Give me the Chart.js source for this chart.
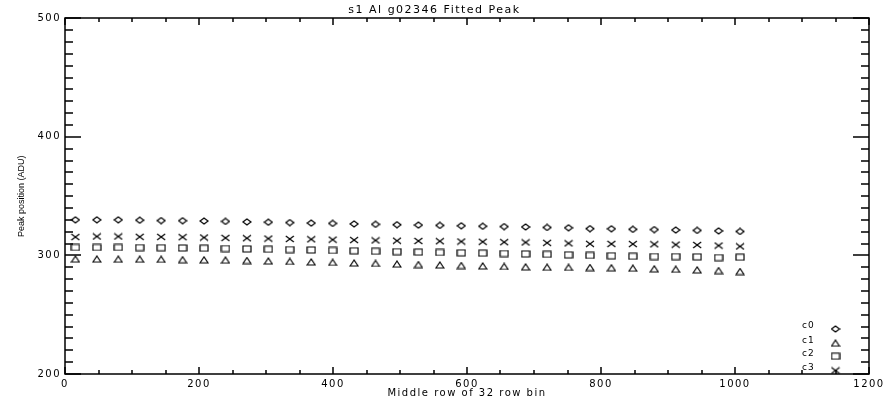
<!DOCTYPE html>
<html><head><meta charset="utf-8">
<script src="https://cdn.jsdelivr.net/npm/chart.js@4"></script>
<style>html,body{margin:0;padding:0;background:#fff;}canvas{display:block;}</style>
</head><body>
<canvas id="c" width="890" height="407"></canvas>
<script>
// ---- data ----
const chartTitle = 's1 Al g02346 Fitted Peak';
const xAxisTitle = 'Middle row of 32 row bin';
const yAxisTitle = 'Peak position (ADU)';
const seriesNames = ['c0', 'c1', 'c2', 'c3'];
const rowBins = [15.5, 47.5, 79.5, 111.5, 143.5, 175.5, 207.5, 239.5, 271.5, 303.5, 335.5, 367.5, 399.5, 431.5, 463.5, 495.5,
                 527.5, 559.5, 591.5, 623.5, 655.5, 687.5, 719.5, 751.5, 783.5, 815.5, 847.5, 879.5, 911.5, 943.5, 975.5, 1007.5];
const c0 = [330.0, 330.0, 330.0, 329.7, 329.4, 329.3, 329.0, 328.7, 328.3, 328.0, 327.7, 327.3, 327.0, 326.6, 326.2, 325.9,
            325.6, 325.3, 325.0, 324.6, 324.3, 324.0, 323.6, 323.3, 322.6, 322.5, 322.0, 321.8, 321.4, 321.1, 320.7, 320.2];
const c1 = [296.9, 296.9, 296.8, 296.8, 296.7, 296.4, 296.3, 296.0, 295.7, 295.3, 294.9, 294.5, 294.1, 293.6, 293.2, 292.7,
            292.3, 291.9, 291.5, 291.1, 290.7, 290.3, 290.0, 289.9, 289.8, 289.6, 289.2, 288.7, 288.3, 287.8, 287.2, 286.4];
const c2 = [306.7, 306.7, 306.7, 306.6, 306.5, 306.3, 306.1, 305.8, 305.5, 305.2, 304.9, 304.6, 304.2, 303.9, 303.5, 303.2,
            302.8, 302.5, 302.2, 301.9, 301.6, 301.3, 300.9, 300.5, 300.0, 299.7, 299.3, 299.1, 299.0, 298.8, 298.2, 298.5];
const c3 = [315.5, 316.0, 316.0, 315.7, 315.6, 315.4, 315.1, 314.8, 314.5, 314.2, 313.9, 313.6, 313.3, 313.0, 312.7, 312.4,
            312.2, 312.0, 311.7, 311.5, 311.2, 311.0, 310.6, 310.2, 309.8, 309.7, 309.6, 309.4, 309.1, 308.8, 308.3, 307.6];
const legendX = [1150, 1150, 1150, 1150];
const legendY = [238, 226, 215, 203];
const legendLabelX = 1100;
const xRange = [0, 1200];
const yRange = [200, 500];

// ---- marker images (IDL-like symbols) ----
function marker(kind) {
  const w = 10, h = 8;
  const cv = document.createElement('canvas');
  cv.width = w; cv.height = h;
  const g = cv.getContext('2d');
  g.strokeStyle = '#000'; g.lineWidth = 1.2;
  g.beginPath();
  if (kind === 'diamond') {
    g.moveTo(1, 4); g.lineTo(5, 1); g.lineTo(9, 4); g.lineTo(5, 7); g.closePath();
  } else if (kind === 'triangle') {
    g.moveTo(1, 7); g.lineTo(5, 1); g.lineTo(9, 7); g.closePath();
  } else if (kind === 'square') {
    g.rect(1, 1, 8, 6);
  } else {
    g.moveTo(1, 1); g.lineTo(9, 7); g.moveTo(1, 7); g.lineTo(9, 1);
  }
  g.stroke();
  return cv;
}
const markers = [marker('diamond'), marker('triangle'), marker('square'), marker('cross')];
const seriesValues = [c0, c1, c2, c3];

const datasets = seriesValues.map((vals, i) => ({
  label: seriesNames[i],
  data: rowBins.map((x, k) => ({ x: x, y: vals[k] })),
  pointStyle: markers[i], pointRadius: 5, showLine: false
}));
datasets.push(...legendX.map((lx, i) => ({
  label: seriesNames[i] + ' key',
  data: [{ x: lx, y: legendY[i] }],
  pointStyle: markers[i], pointRadius: 5, showLine: false
})));

const frameTicks = {
  id: 'frameTicks',
  beforeDraw(chart) {
    chart.ctx.letterSpacing = '1.5px';
    const ys = chart.scales.y;
    if (ys && !ys._titlePatched) {
      const orig = ys.drawTitle;
      ys.drawTitle = function () {
        const c = this.ctx; c.save(); c.letterSpacing = '0px'; orig.apply(this, arguments); c.restore();
      };
      ys._titlePatched = true;
    }
  },
  afterDraw(chart) {
    const { ctx, chartArea: a, scales: { x, y } } = chart;
    ctx.save();
    ctx.strokeStyle = '#000'; ctx.lineWidth = 1.5;
    const L = Math.round(a.left), R = Math.round(a.right);
    const T = Math.round(a.top), B = Math.round(a.bottom);
    ctx.beginPath();
    ctx.moveTo(L, T); ctx.lineTo(R, T); ctx.lineTo(R, B); ctx.lineTo(L, B); ctx.closePath();
    ctx.stroke();
    ctx.beginPath();
    for (let v = x.min; v <= x.max; v += 50) {
      const px = Math.round(x.getPixelForValue(v));
      const len = (v % 200 === 0) ? 7 : 4;
      ctx.moveTo(px, B); ctx.lineTo(px, B - len);
      ctx.moveTo(px, T); ctx.lineTo(px, T + len);
    }
    for (let v = y.min; v <= y.max; v += 10) {
      const py = Math.round(y.getPixelForValue(v));
      const len = (v % 100 === 0) ? 16 : 8;
      ctx.moveTo(L, py); ctx.lineTo(L + len, py);
      ctx.moveTo(R, py); ctx.lineTo(R - len, py);
    }
    ctx.stroke();
    ctx.fillStyle = '#000';
    ctx.font = '9px "DejaVu Sans"';
    ctx.letterSpacing = '1px';
    ctx.textAlign = 'left'; ctx.textBaseline = 'middle';
    seriesNames.forEach((n, i) => {
      ctx.fillText(n, x.getPixelForValue(legendLabelX), y.getPixelForValue(legendY[i]) - 3);
    });
    ctx.restore();
  }
};

new Chart(document.getElementById('c'), {
  type: 'scatter',
  data: { datasets },
  plugins: [frameTicks],
  options: {
    responsive: false, animation: false, devicePixelRatio: 1,
    layout: { padding: { left: 0, right: 21, top: 0, bottom: 0 } },
    plugins: {
      legend: { display: false }, tooltip: { enabled: false },
      title: {
        display: true, text: chartTitle, color: '#000',
        font: { family: 'DejaVu Sans', size: 11, weight: 'normal' },
        padding: { top: 4, bottom: 1.1 }
      }
    },
    scales: {
      x: {
        type: 'linear', position: 'bottom', min: xRange[0], max: xRange[1],
        grid: { display: false, drawTicks: false }, border: { display: false },
        ticks: { stepSize: 200, color: '#000', padding: 4, maxRotation: 0,
                 font: { family: 'DejaVu Sans', size: 10 }, callback: v => String(v) },
        title: { display: true, text: xAxisTitle, color: '#000',
                 font: { family: 'DejaVu Sans', size: 10 }, padding: { top: 0, bottom: 7.5 } },
        afterFit(s) { s.height = 33; }
      },
      y: {
        type: 'linear', position: 'left', min: yRange[0], max: yRange[1],
        grid: { display: false, drawTicks: false }, border: { display: false },
        ticks: { stepSize: 100, color: '#000', padding: 4,
                 font: { family: 'DejaVu Sans', size: 10 }, callback: v => String(v) },
        title: { display: true, text: yAxisTitle, color: '#000',
                 font: { family: "'Liberation Sans Narrow', 'Liberation Sans', sans-serif", size: 9 },
                 padding: { top: 16.4, bottom: 0 } },
        afterFit(s) { s.width = 65; }
      }
    }
  }
});
</script>
</body></html>
